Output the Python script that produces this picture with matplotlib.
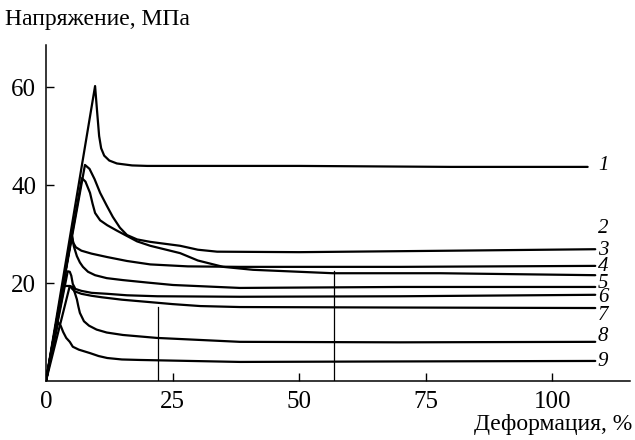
import numpy as np
import matplotlib
matplotlib.use("Agg")
import matplotlib.pyplot as plt

# ============================
# DATA
# ============================
# strain, %  /  stress, MPa
c1_x = [0, 9.7, 10.1, 10.5, 10.9, 11.5, 12.5, 14.0, 17.0, 20.0, 50.0, 80.0, 107.0]
c1_y = [0, 60.2, 55.0, 50.0, 47.5, 46.0, 45.0, 44.4, 44.0, 43.9, 43.9, 43.7, 43.7]

c2_x = [0, 7.7, 8.6, 9.6, 10.7, 12.0, 13.2, 14.6, 16.0, 18.0, 20.6, 26.5, 30.0,
        33.8, 50.0, 80.0, 108.5]
c2_y = [0, 44.1, 43.3, 41.2, 38.4, 35.8, 33.5, 31.3, 29.8, 28.9, 28.4, 27.6, 26.8,
        26.4, 26.3, 26.6, 26.9]

c3_x = [0, 7.1, 7.8, 8.7, 9.2, 9.7, 10.7, 12.1, 14.0, 16.0, 18.0, 20.6, 26.5,
        30.0, 35.0, 40.9, 56.7, 77.9, 108.5]
c3_y = [0, 41.4, 40.7, 38.4, 36.2, 34.3, 32.8, 31.8, 30.7, 29.6, 28.5, 27.6, 26.1,
        24.6, 23.3, 22.7, 22.0, 22.0, 21.6]

c4_x = [0, 5.1, 5.4, 5.9, 7.0, 9.0, 12.1, 16.0, 20.6, 28.0, 38.3, 70.0, 108.5]
c4_y = [0, 29.8, 28.2, 27.3, 26.6, 26.0, 25.3, 24.5, 23.8, 23.4, 23.3, 23.3, 23.5]

c5_x = [0, 5.1, 5.5, 6.1, 6.7, 7.3, 8.3, 9.7, 12.0, 15.2, 20.0, 25.1, 38.3,
        70.0, 108.5]
c5_y = [0, 29.8, 27.5, 25.5, 24.2, 23.3, 22.3, 21.6, 21.0, 20.6, 20.1, 19.6, 19.0,
        19.2, 19.2]

c6_x = [0, 4.3, 4.7, 5.0, 5.3, 5.8, 7.0, 9.0, 12.1, 16.0, 22.0, 38.3, 70.0, 108.5]
c6_y = [0, 22.4, 22.3, 21.5, 19.8, 18.8, 18.4, 18.0, 17.8, 17.5, 17.3, 17.2, 17.3, 17.6]

c7_x = [0, 3.6, 4.7, 5.2, 5.7, 7.0, 9.0, 11.0, 15.0, 20.6, 25.0, 30.5, 38.3,
        70.0, 108.5]
c7_y = [0, 19.4, 19.4, 18.8, 18.3, 17.8, 17.4, 17.1, 16.6, 16.1, 15.7, 15.3, 15.1,
        15.0, 14.9]

c8_x = [0, 4.7, 5.3, 5.7, 6.1, 6.4, 6.7, 7.5, 8.5, 10.0, 12.0, 15.2, 21.9, 38.3,
        70.0, 108.5]
c8_y = [0, 19.4, 19.2, 18.0, 16.7, 15.2, 13.9, 12.2, 11.3, 10.5, 9.9, 9.4, 8.8, 8.0,
        7.9, 8.0]

c9_x = [0, 2.4, 2.9, 3.4, 4.0, 4.7, 5.3, 6.5, 8.7, 10.4, 12.1, 15.0, 18.6, 38.3,
        70.0, 108.5]
c9_y = [0, 12.0, 11.3, 10.0, 8.8, 8.0, 7.0, 6.4, 5.7, 5.1, 4.7, 4.4, 4.3, 3.9,
        4.0, 4.1]

curves = [(c1_x, c1_y), (c2_x, c2_y), (c3_x, c3_y), (c4_x, c4_y), (c5_x, c5_y),
          (c6_x, c6_y), (c7_x, c7_y), (c8_x, c8_y), (c9_x, c9_y)]

curve_labels = ["1", "2", "3", "4", "5", "6", "7", "8", "9"]
label_y = [43.9, 31.2, 26.6, 23.3, 19.9, 17.1, 13.4, 9.0, 4.0]
label_x = 109.0

# vertical marker lines: (strain, top stress)
mark_x = [22.1, 56.9]
mark_top = [15.1, 22.4]

x_ticks = [0, 25, 50, 75, 100]
y_ticks = [20, 40, 60]

# ============================
# PLOT
# ============================
plt.rcParams['font.family'] = ['Liberation Serif', 'DejaVu Serif']

fig = plt.figure(figsize=(6.35, 4.4), dpi=100)
ax = fig.add_axes([0.0724, 0.134, 0.92, 0.764])

for (xs, ys) in curves:
    ax.plot(xs, ys, color='black', lw=1.6, solid_joinstyle='round',
            solid_capstyle='round')

for xm, ym in zip(mark_x, mark_top):
    ax.plot([xm, xm], [0, ym], color='black', lw=0.9)

for lab, ly in zip(curve_labels, label_y):
    ax.text(label_x, ly, lab, fontsize=15, style='italic', va='center', ha='left')

ax.set_xlim(0, 115.4)
ax.set_ylim(0, 68.6)
ax.set_xticks(x_ticks)
ax.set_yticks(y_ticks)
ax.tick_params(direction='in', length=6, width=1.0, labelsize=18, pad=7)

for s in ['top', 'right']:
    ax.spines[s].set_visible(False)
for s in ['left', 'bottom']:
    ax.spines[s].set_linewidth(1.1)

fig.text(0.008, 0.955, "Напряжение, МПа", fontsize=17, ha='left', va='center')
fig.text(0.996, 0.035, "Деформация, %", fontsize=17, ha='right', va='center')

fig.savefig("out.png", dpi=100)
